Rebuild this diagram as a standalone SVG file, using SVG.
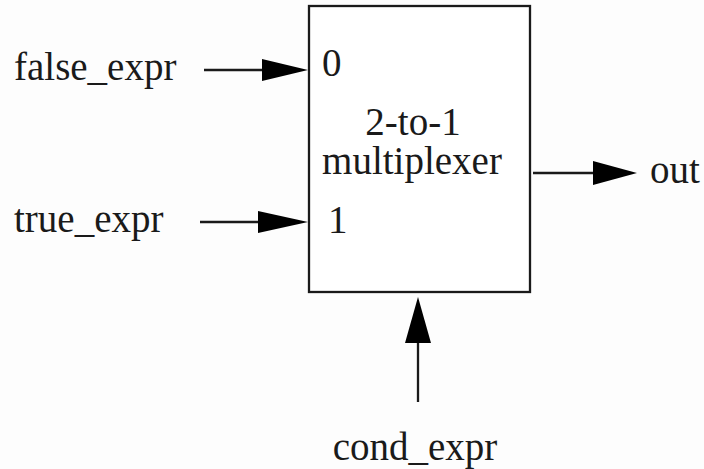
<svg xmlns="http://www.w3.org/2000/svg" width="704" height="469" viewBox="0 0 704 469">
<style>
text{font-family:"Liberation Serif","Times New Roman",serif;font-size:39px;fill:#1a1a1a}
.w{stroke:#1a1a1a;stroke-width:2.3;fill:none}
.h{fill:#000}
</style>
<rect width="704" height="469" fill="#fdfdfd"/>
<g id="mux">
<rect x="309" y="6" width="221" height="286" fill="#fff" stroke="#1a1a1a" stroke-width="2.3"/>
<text x="322" y="76">0</text>
<text x="328" y="233">1</text>
<text x="413" y="135" text-anchor="middle">2-to-1</text>
<text x="412" y="174" text-anchor="middle">multiplexer</text>
</g>
<g id="false_expr"><text x="14" y="80">false_expr</text></g>
<g id="true_expr"><text x="14" y="232">true_expr</text></g>
<g id="out"><text x="650" y="183">out</text></g>
<g id="cond_expr"><text x="415" y="460" text-anchor="middle">cond_expr</text></g>
<g id="connectors">
<line class="w" x1="204" y1="70" x2="265" y2="70"/>
<polygon class="h" points="262,59 308,70 262,81"/>
<line class="w" x1="200" y1="222" x2="260" y2="222"/>
<polygon class="h" points="258,211 308,222 258,233"/>
<line class="w" x1="533" y1="173" x2="595" y2="173"/>
<polygon class="h" points="593,161 637,173 593,185"/>
<line class="w" x1="418" y1="402" x2="418" y2="340"/>
<polygon class="h" points="405,343 418,297 431,343"/>
</g>
</svg>
